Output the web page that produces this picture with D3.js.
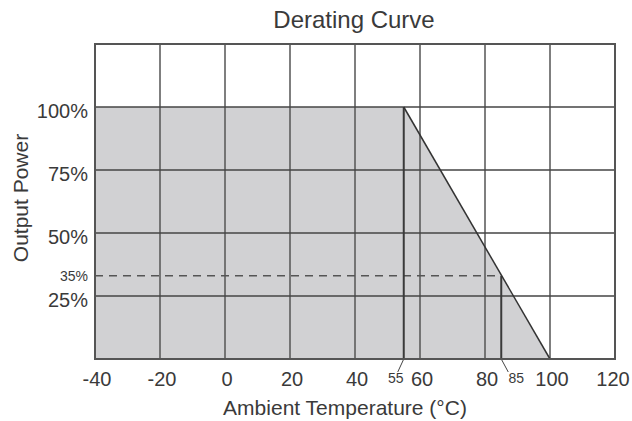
<!DOCTYPE html>
<html>
<head>
<meta charset="utf-8">
<script src="https://cdn.jsdelivr.net/npm/d3@7"></script>
<style>
  body { margin: 0; background: #fff; }
  text { font-family: "Liberation Sans", Arial, sans-serif; fill: #3a3a3a; }
</style>
</head>
<body>
<svg class="chart"></svg>
<script>
// data
var xTicks = [-40, -20, 0, 20, 40, 60, 80, 100, 120];
var yTicks = [25, 50, 75, 100];
var curveTemp = [-40, 55, 100];
var curvePower = [100, 100, 0];
var markTemp = [55, 85];
var markPower = [100, 33];
var markLabels = ["55", "85"];
var dashPower = 33;
var dashLabel = "35%";

var svgWidth = 632,
    svgHeight = 421;

var svg = d3.select(".chart")
      .attr("width", svgWidth)
      .attr("height", svgHeight);

var x = d3.scaleLinear().domain([-40, 120]).range([95, 615]);
var y = d3.scaleLinear().domain([0, 125]).range([359, 44]);

var pts = curveTemp.map(function(t, i) { return [t, curvePower[i]]; });

// shaded area under the curve
svg.append("path")
      .datum(pts)
      .attr("fill", "#d1d1d3")
      .attr("d", d3.area()
        .x(function(d) { return x(d[0]); })
        .y0(y(0))
        .y1(function(d) { return y(d[1]); }));

// grid
svg.selectAll(".vgrid")
      .data(xTicks.slice(1, -1))
      .enter()
      .append("line")
      .attr("x1", function(d) { return x(d); })
      .attr("x2", function(d) { return x(d); })
      .attr("y1", y(0))
      .attr("y2", y(125))
      .attr("stroke", "#555")
      .attr("stroke-width", 1.5);

svg.selectAll(".hgrid")
      .data(yTicks)
      .enter()
      .append("line")
      .attr("x1", x(-40))
      .attr("x2", x(120))
      .attr("y1", function(d) { return y(d); })
      .attr("y2", function(d) { return y(d); })
      .attr("stroke", "#444")
      .attr("stroke-width", 1.5);

// dashed level line
svg.append("line")
      .attr("x1", x(-40))
      .attr("x2", x(markTemp[1]))
      .attr("y1", y(dashPower))
      .attr("y2", y(dashPower))
      .attr("stroke", "#555")
      .attr("stroke-width", 1.5)
      .attr("stroke-dasharray", "8,6");

// marker verticals at 55 and 85
svg.selectAll(".mark")
      .data(markTemp)
      .enter()
      .append("line")
      .attr("x1", function(d) { return x(d); })
      .attr("x2", function(d) { return x(d); })
      .attr("y1", y(0))
      .attr("y2", function(d, i) { return y(markPower[i]); })
      .attr("stroke", "#3a3a3a")
      .attr("stroke-width", 2);

// leader lines to the small labels
svg.selectAll(".leader")
      .data(markTemp)
      .enter()
      .append("line")
      .attr("x1", function(d) { return x(d); })
      .attr("x2", function(d, i) { return x(d) + (i == 0 ? -6 : 7); })
      .attr("y1", y(0))
      .attr("y2", y(0) + 13)
      .attr("stroke", "#444")
      .attr("stroke-width", 1);

// derating line
svg.append("path")
      .datum(pts.slice(1))
      .attr("fill", "none")
      .attr("stroke", "#333")
      .attr("stroke-width", 1.5)
      .attr("d", d3.line()
        .x(function(d) { return x(d[0]); })
        .y(function(d) { return y(d[1]); }));

// frame
svg.append("rect")
      .attr("x", x(-40))
      .attr("y", y(125))
      .attr("width", x(120) - x(-40))
      .attr("height", y(0) - y(125))
      .attr("fill", "none")
      .attr("stroke", "#555")
      .attr("stroke-width", 2);

// tick labels
svg.selectAll(".xlab")
      .data(xTicks)
      .enter()
      .append("text")
      .text(function(d) { return d; })
      .attr("x", function(d) { return Math.min(x(d) + 2, 613); })
      .attr("y", 386)
      .attr("text-anchor", "middle")
      .attr("font-size", "20px");

svg.selectAll(".ylab")
      .data(yTicks)
      .enter()
      .append("text")
      .text(function(d) { return d + "%"; })
      .attr("x", 88)
      .attr("y", function(d) { return y(d) + 11; })
      .attr("text-anchor", "end")
      .attr("font-size", "20px");

svg.selectAll(".mlab")
      .data(markLabels)
      .enter()
      .append("text")
      .text(function(d) { return d; })
      .attr("x", function(d, i) { return x(markTemp[i]) + (i == 0 ? -8 : 15); })
      .attr("y", 383)
      .attr("text-anchor", "middle")
      .attr("font-size", "14px")
      .attr("fill", "#555");

svg.append("text")
      .text(dashLabel)
      .attr("x", 88)
      .attr("y", y(dashPower) + 5)
      .attr("text-anchor", "end")
      .attr("font-size", "14px")
      .attr("fill", "#555");

// titles
svg.append("text")
      .text("Derating Curve")
      .attr("x", 354)
      .attr("y", 28)
      .attr("text-anchor", "middle")
      .attr("font-size", "24px");

svg.append("text")
      .text("Ambient Temperature (°C)")
      .attr("x", 345)
      .attr("y", 415)
      .attr("text-anchor", "middle")
      .attr("font-size", "21px");

svg.append("text")
      .text("Output Power")
      .attr("transform", "translate(28,198) rotate(-90)")
      .attr("text-anchor", "middle")
      .attr("font-size", "21px");
</script>
</body>
</html>
